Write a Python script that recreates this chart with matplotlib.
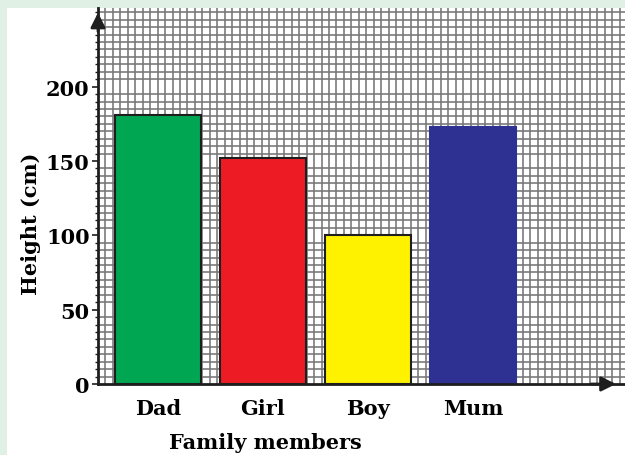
import numpy as np
import matplotlib
matplotlib.use("Agg")
import matplotlib.pyplot as plt
from matplotlib.patches import Rectangle

# family heights in cm
members = ["Dad", "Girl", "Boy", "Mum"]
heights = [181, 152, 100, 173]
colors = ["#00a651", "#ed1c24", "#fff200", "#2e3192"]
edges = ["#1e1e1e", "#1e1e1e", "#1e1e1e", "#2e3192"]
yticks = [0, 50, 100, 150, 200]

plt.rcParams["font.family"] = "DejaVu Serif"
plt.rcParams["font.weight"] = "bold"

fig = plt.figure(figsize=(6.25, 4.56), dpi=100)
fig.patch.set_facecolor("#e0f0e4")
# white card behind the chart
fig.add_artist(Rectangle((7 / 625, 0), 1, 1 - 9 / 456, transform=fig.transFigure,
                         facecolor="white", edgecolor="none", zorder=-10))

ax = fig.add_axes([98 / 625, 71 / 456, 527 / 625, 376 / 456])
ax.set_facecolor("white")

x = np.arange(len(members))
ax.bar(x, heights, width=0.82, color=colors, edgecolor=edges, linewidth=1.5, zorder=3)

xmin, xmax = -0.571, 4.448
ymin, ymax = 0, 252.9
ax.set_xlim(xmin, xmax)
ax.set_ylim(ymin, ymax)

# graph-paper grid: one cell = 5 cm
cell_x = 7.45 / 105
ax.set_xticks(np.arange(xmin, xmax, cell_x), minor=True)
ax.set_yticks(np.arange(0, ymax, 5), minor=True)
ax.grid(which="minor", color="#767676", linewidth=1.15, zorder=0)
ax.set_axisbelow(True)

ax.set_xticks(x)
ax.set_xticklabels(members, fontsize=15, fontweight="bold")
ax.set_yticks(yticks)
ax.set_yticklabels([str(v) for v in yticks], fontsize=15, fontweight="bold")
ax.tick_params(axis="x", which="both", length=0, pad=10)
ax.tick_params(axis="y", which="major", length=4, width=1.2, pad=2, color="#1e1e1e")
ax.tick_params(axis="y", which="minor", length=2.5, width=1, color="#1e1e1e")

for side in ["top", "right"]:
    ax.spines[side].set_visible(False)
for side in ["left", "bottom"]:
    ax.spines[side].set_color("#1e1e1e")
    ax.spines[side].set_linewidth(2)
    ax.spines[side].set_zorder(4)

# arrow heads on both axes
ax.annotate("", xy=(0, 0.995), xytext=(0, 0.93), xycoords="axes fraction",
            arrowprops=dict(arrowstyle="-|>", color="#1e1e1e", lw=2, mutation_scale=22))
ax.annotate("", xy=(0.988, 0), xytext=(0.93, 0), xycoords="axes fraction",
            arrowprops=dict(arrowstyle="-|>", color="#1e1e1e", lw=2, mutation_scale=22))

ax.set_xlabel("Family members", fontsize=15, fontweight="bold")
ax.xaxis.set_label_coords(0.317, -0.128)
ax.set_ylabel("Height (cm)", fontsize=15, fontweight="bold")
ax.yaxis.set_label_coords(-0.108, 0.428)

fig.savefig("out.png", dpi=100, facecolor=fig.get_facecolor())
